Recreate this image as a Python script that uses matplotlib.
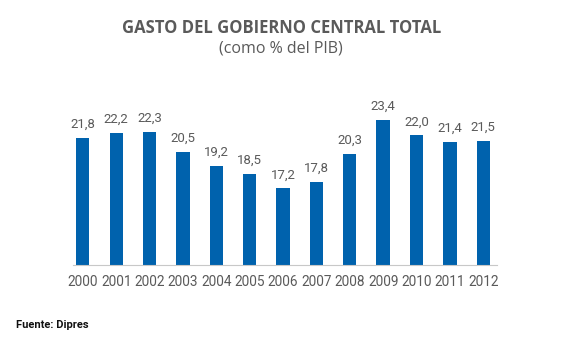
import matplotlib
matplotlib.use('Agg')
import matplotlib.pyplot as plt
import numpy as np

years = ['2000', '2001', '2002', '2003', '2004', '2005', '2006',
         '2007', '2008', '2009', '2010', '2011', '2012']
gasto = [21.8, 22.2, 22.3, 20.5, 19.2, 18.5, 17.2, 17.8, 20.3, 23.4, 22.0, 21.4, 21.5]

bar_color = '#0062AD'
text_gray = '#5a5a5a'
narrow = ['DejaVu Sans Condensed', 'Roboto']

fig = plt.figure(figsize=(5.67, 3.46), dpi=100)
ax = fig.add_axes([0.129, 0.234, 0.748, 0.477])

x = np.arange(len(years))
ax.bar(x, gasto, width=0.4, color=bar_color, bottom=0)
ax.set_ylim(10.24, 25.2)
ax.set_xlim(-0.29, 12.42)

for xi, v in zip(x, gasto):
    ax.annotate(f'{v:.1f}'.replace('.', ','), (xi, v), xytext=(0, 5),
                textcoords='offset points', ha='center', va='bottom',
                fontsize=9.5, color=text_gray, family=narrow, stretch='condensed')

ax.set_xticks(x)
ax.set_xticklabels(years, fontsize=9.8, color=text_gray, family=narrow, stretch='condensed')
ax.tick_params(axis='x', length=0, pad=7.5)
ax.set_yticks([])
for s in ['top', 'right', 'left']:
    ax.spines[s].set_visible(False)
ax.spines['bottom'].set_color('#c8c8c8')
ax.spines['bottom'].set_linewidth(0.8)

fig.text(0.496, 0.919, 'GASTO DEL GOBIERNO CENTRAL TOTAL', ha='center', va='center',
         fontsize=12, fontweight='bold', color=text_gray, family=['Open Sans', 'DejaVu Sans'])
fig.text(0.496, 0.861, '(como % del PIB)', ha='center', va='center',
         fontsize=11.5, color=text_gray, family=['Open Sans', 'DejaVu Sans'])
fig.text(0.028, 0.06, 'Fuente: Dipres', ha='left', va='center',
         fontsize=8, fontweight='bold', color='#111111', family=narrow, stretch='condensed')

fig.savefig('out.png', dpi=100)
